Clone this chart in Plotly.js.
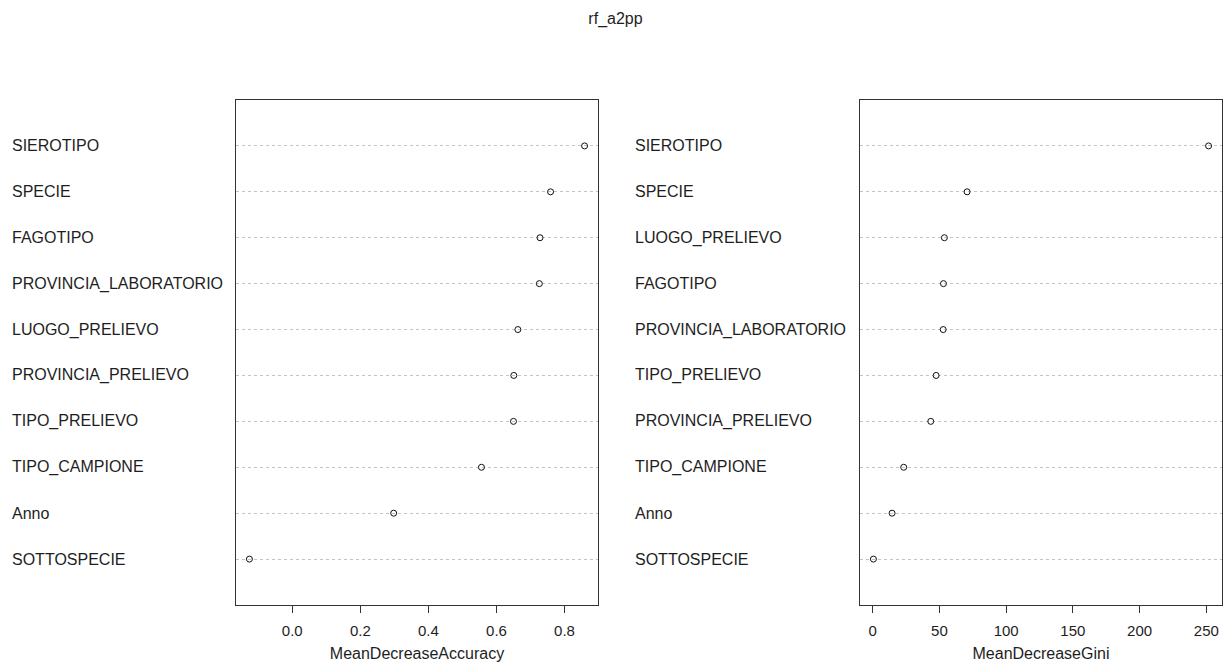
<!DOCTYPE html>
<html>
<head>
<meta charset="utf-8">
<script src="https://cdn.plot.ly/plotly-3.0.1.min.js"></script>
<style>
  html, body { margin: 0; padding: 0; background: #fff; }
  #chart { width: 1231px; height: 663px; }
</style>
</head>
<body>
<div id="chart"></div>
<script>
// Variable importance of the random forest rf_a2pp (two dot charts)
const chartTitle = "rf_a2pp";

const accLabels = ["SIEROTIPO", "SPECIE", "FAGOTIPO", "PROVINCIA_LABORATORIO", "LUOGO_PRELIEVO",
                   "PROVINCIA_PRELIEVO", "TIPO_PRELIEVO", "TIPO_CAMPIONE", "Anno", "SOTTOSPECIE"];
const accValues = [0.859, 0.759, 0.728, 0.726, 0.663, 0.651, 0.650, 0.556, 0.298, -0.126];
const accTitle = "MeanDecreaseAccuracy";
const accTicks = [0, 0.2, 0.4, 0.6, 0.8];

const giniLabels = ["SIEROTIPO", "SPECIE", "LUOGO_PRELIEVO", "FAGOTIPO", "PROVINCIA_LABORATORIO",
                    "TIPO_PRELIEVO", "PROVINCIA_PRELIEVO", "TIPO_CAMPIONE", "Anno", "SOTTOSPECIE"];
const giniValues = [251.7, 70.7, 53.7, 53.0, 52.8, 47.5, 43.5, 23.2, 14.5, 0.5];
const giniTitle = "MeanDecreaseGini";
const giniTicks = [0, 50, 100, 150, 200, 250];

const W = 1231, H = 663;
const FONT = "Liberation Sans, Arial, sans-serif";
const INK = "#1e1e1e";

// rows are numbered from the bottom, like a base-graphics dotchart
const rowPos = labels => labels.map((_, i) => labels.length - i);

// data range padded by 4% on each side
function padded(vals) {
  const lo = Math.min(...vals), hi = Math.max(...vals);
  const d = (hi - lo) * 0.04;
  return [lo - d, hi + d];
}

const panels = [
  { labels: accLabels, values: accValues, title: accTitle, ticks: accTicks, fmt: ".1f",
    x0: 236, x1: 598, labelX: 10 },
  { labels: giniLabels, values: giniValues, title: giniTitle, ticks: giniTicks, fmt: "d",
    x0: 860, x1: 1222, labelX: 633 }
];

const boxTop = 100, boxBottom = 605;

const traces = [];
const layout = {
  width: W, height: H,
  margin: { l: 0, r: 0, t: 0, b: 0, pad: 0 },
  paper_bgcolor: "#fff",
  plot_bgcolor: "#fff",
  showlegend: false,
  font: { family: FONT, color: INK, size: 15 },
  title: {
    text: chartTitle,
    x: 0.5, xanchor: "center",
    y: 1 - 18 / H, yanchor: "middle", yref: "container",
    font: { family: FONT, size: 16, color: INK }
  },
  annotations: []
};

panels.forEach((p, k) => {
  const xa = k === 0 ? "x" : "x2";
  const ya = k === 0 ? "y" : "y2";
  const ys = rowPos(p.labels);
  traces.push({
    type: "scatter", mode: "markers",
    x: p.values, y: ys,
    xaxis: xa, yaxis: ya,
    marker: { symbol: "circle-open", size: 6, color: "#111", line: { width: 1, color: "#111" } },
    hoverinfo: "x+text", text: p.labels
  });

  const axName = k === 0 ? "xaxis" : "xaxis2";
  const ayName = k === 0 ? "yaxis" : "yaxis2";
  layout[axName] = {
    domain: [p.x0 / W, p.x1 / W],
    anchor: ya,
    range: padded(p.values),
    tickmode: "array",
    tickvals: p.ticks,
    ticktext: p.ticks.map(v => p.fmt === "d" ? String(v) : v.toFixed(1)),
    ticks: "outside", ticklen: 7, tickwidth: 1, tickcolor: "#333",
    ticklabelstandoff: 5,
    tickfont: { family: FONT, size: 15, color: INK },
    showline: true, linecolor: "#333", linewidth: 1, mirror: true,
    showgrid: false, zeroline: false, automargin: false,
    title: { text: p.title, standoff: 9, font: { family: FONT, size: 16, color: INK } }
  };
  layout[ayName] = {
    domain: [1 - boxBottom / H, 1 - boxTop / H],
    anchor: xa,
    range: [0, p.labels.length + 1],
    tickmode: "array", tickvals: ys, ticktext: ys.map(() => ""),
    ticks: "", showticklabels: false,
    showgrid: true, gridcolor: "#c4c4c4", griddash: "dot", gridwidth: 1,
    showline: true, linecolor: "#333", linewidth: 1, mirror: true,
    zeroline: false, automargin: false
  };

  // left-aligned variable names beside each row
  p.labels.forEach((lab, i) => {
    layout.annotations.push({
      text: lab, xref: "paper", yref: ya,
      x: p.labelX / W, y: ys[i],
      xanchor: "left", yanchor: "middle", showarrow: false,
      font: { family: FONT, size: 16, color: INK }
    });
  });
});

Plotly.newPlot("chart", traces, layout, { displayModeBar: false, staticPlot: true });
</script>
</body>
</html>
